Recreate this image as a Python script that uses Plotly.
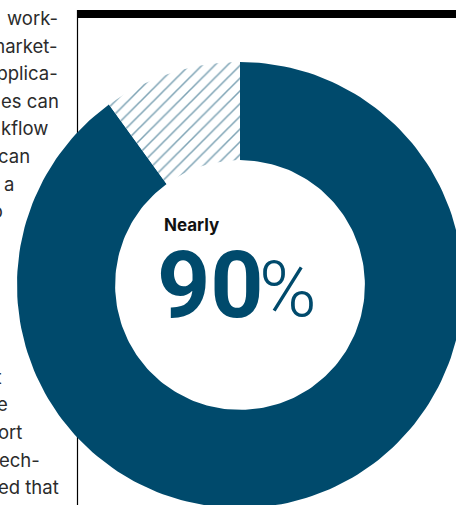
import numpy as np
import plotly.graph_objects as go

# Share of respondents: main slice and remainder
labels = ["Nearly 90%", "Remainder"]
shares = [90, 10]
colors = ["#004a6c", "#ffffff"]

# Body copy fragments in the left column (line index, text, right edge px)
body_lines = ["work-", "market-", "applica-", "es can", "kflow", "can", "a", "to",
              "it", "e", "ort", "ech-", "ed that"]
body_rows = [0, 1, 2, 3, 4, 5, 6, 7, 13, 14, 15, 16, 17]
body_right = [60, 60, 60, 61, 50, 32, 16, 5, 4, 10, 24, 42, 61]

W, H = 456, 505
CX, CY, R_OUT = 240, 285, 223
HOLE = 0.56

fig = go.Figure()

# Donut ring, clockwise from 12 o'clock
start = 0.0
total = sum(shares)
for i, (lab, v) in enumerate(zip(labels, shares)):
    a0 = start
    a1 = start + 360.0 * v / total
    start = a1
    t = np.radians(90 - np.linspace(a0, a1, 200))
    xo, yo = np.cos(t), np.sin(t)
    xi, yi = HOLE * np.cos(t[::-1]), HOLE * np.sin(t[::-1])
    xs = np.concatenate([xo, xi, xo[:1]])
    ys = np.concatenate([yo, yi, yo[:1]])
    kw = dict(fillcolor=colors[i])
    if i == 1:
        kw["fillpattern"] = dict(shape="/", size=9, solidity=0.17,
                                 fgcolor="#004a6c", bgcolor="#ffffff")
    fig.add_trace(go.Scatter(x=xs, y=ys, mode="lines", fill="toself",
                             line=dict(width=0, color=colors[0]),
                             hoverinfo="skip", name=lab, showlegend=False, **kw))

# Rules
fig.add_shape(type="rect", xref="paper", yref="paper",
              x0=77 / W, x1=1, y0=1 - 18 / H, y1=1 - 10 / H,
              fillcolor="#000000", line_width=0, layer="below")
fig.add_shape(type="line", xref="paper", yref="paper",
              x0=77.5 / W, x1=77.5 / W, y0=0, y1=1 - 10 / H,
              line=dict(color="#000000", width=1.2), layer="below")

# Body copy
for row, txt, xr in zip(body_rows, body_lines, body_right):
    ypx = 18 + row * 27.6
    fig.add_annotation(x=xr / W, y=1 - ypx / H, xref="paper", yref="paper",
                       text=txt, showarrow=False, xanchor="right", yanchor="middle",
                       font=dict(family="Inter", size=18.5, color="#2b2b2b"))

# Centre label
fig.add_annotation(x=162 / W, y=1 - 225 / H, xref="paper", yref="paper",
                   text="<b>Nearly</b>", showarrow=False, xanchor="left", yanchor="middle",
                   font=dict(family="Inter", size=17, color="#111111"))
fig.add_annotation(x=155 / W, y=1 - 285 / H, xref="paper", yref="paper",
                   text="<b>90</b>", showarrow=False, xanchor="left", yanchor="middle",
                   font=dict(family="Roboto", size=93, color="#004a6c"))
fig.add_annotation(x=257 / W, y=1 - 289 / H, xref="paper", yref="paper",
                   text="<span style='font-weight:300'>%</span>",
                   showarrow=False, xanchor="left", yanchor="middle",
                   font=dict(family="Roboto", size=78, color="#004a6c"))

fig.update_xaxes(range=[-CX / R_OUT, (W - CX) / R_OUT], visible=False, fixedrange=True)
fig.update_yaxes(range=[-(H - CY) / R_OUT, CY / R_OUT], visible=False, fixedrange=True)
fig.update_layout(width=W, height=H, margin=dict(l=0, r=0, t=0, b=0, pad=0),
                  paper_bgcolor="#ffffff", plot_bgcolor="#ffffff", showlegend=False)

fig.write_html("out.html")
